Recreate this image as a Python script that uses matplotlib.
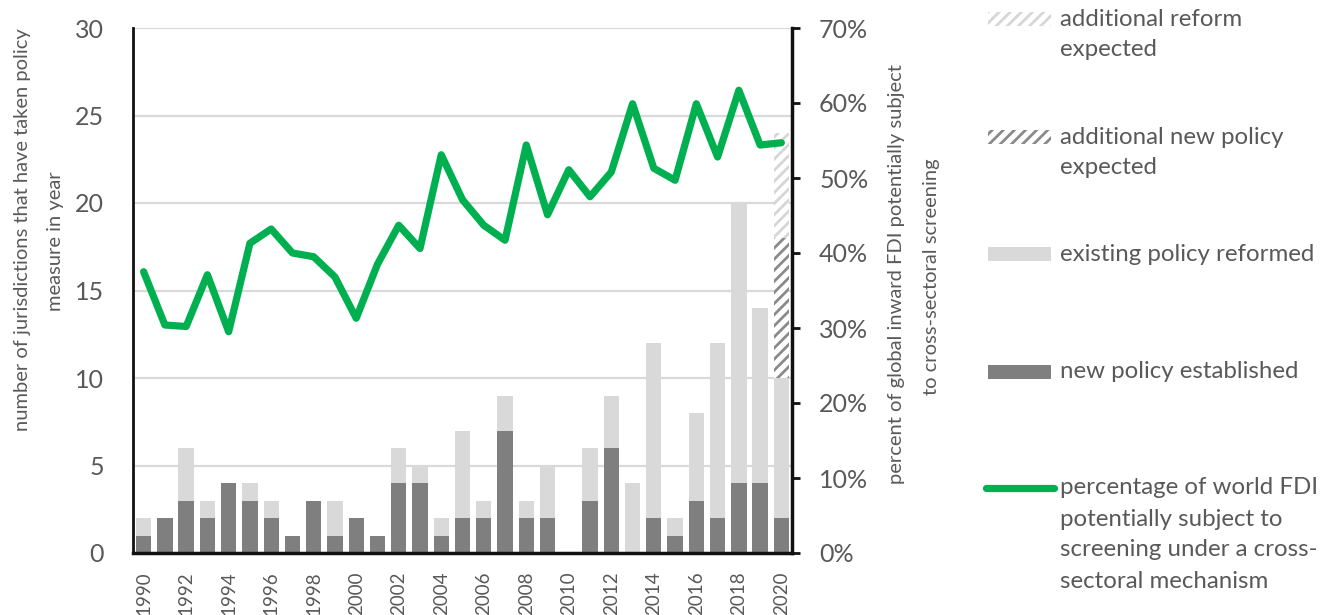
import matplotlib
matplotlib.use('Agg')
import matplotlib.pyplot as plt
from matplotlib.patches import Rectangle
from matplotlib.lines import Line2D
import numpy as np

# ---------------- data ----------------
years = list(range(1990, 2021))
new_policy = [1, 2, 3, 2, 4, 3, 2, 1, 3, 1, 2, 1, 4, 4, 1, 2, 2, 7, 2, 2,
              0, 3, 6, 0, 2, 1, 3, 2, 4, 4, 2]
reformed = [1, 0, 3, 1, 0, 1, 1, 0, 0, 2, 0, 0, 2, 1, 1, 5, 1, 2, 1, 3,
            0, 3, 3, 4, 10, 1, 5, 10, 16, 10, 8]
expected_new = [0] * 30 + [8]
expected_reform = [0] * 30 + [6]
fdi_share = [37.5, 30.4, 30.2, 37.1, 29.5, 41.3, 43.2, 40.0, 39.5, 36.8,
             31.3, 38.5, 43.7, 40.6, 53.1, 47.1, 43.7, 41.7, 54.4, 45.1,
             51.1, 47.5, 50.8, 59.9, 51.3, 49.7, 59.9, 52.8, 61.7, 54.4, 54.7]

left_ticks = [0, 5, 10, 15, 20, 25, 30]
right_ticks = [0, 10, 20, 30, 40, 50, 60, 70]
left_label = ["number of jurisdictions that have taken policy", "measure in year"]
right_label = ["percent of global inward FDI potentially subject",
               "to cross-sectoral screening"]
legend_labels = [
    ["additional reform", "expected"],
    ["additional new policy", "expected"],
    ["existing policy reformed"],
    ["new policy established"],
    ["percentage of world FDI", "potentially subject to",
     "screening under a cross-", "sectoral mechanism"],
]

# ---------------- style ----------------
DARK = '#7f7f7f'
LIGHT = '#d9d9d9'
GREEN = '#00b050'
TXT = '#595959'
plt.rcParams['font.family'] = ['Lato', 'DejaVu Sans']
plt.rcParams['hatch.linewidth'] = 2.0

W, H = 1336, 615
fig = plt.figure(figsize=(W / 100, H / 100), dpi=100)
L, R, T, B = 133, 792, 28, 553
ax = fig.add_axes([L / W, 1 - B / H, (R - L) / W, (B - T) / H])

x = np.arange(len(years))
bw = 0.72
new_a = np.array(new_policy)
ref_a = np.array(reformed)
exn_a = np.array(expected_new)
exr_a = np.array(expected_reform)

ax.bar(x, new_a, width=bw, color=DARK, lw=0, zorder=2)
ax.bar(x, ref_a, width=bw, bottom=new_a, color=LIGHT, lw=0, zorder=2)
ax.bar(x, exn_a, width=bw, bottom=new_a + ref_a, facecolor='white',
       edgecolor='#8a8a8a', hatch='///', lw=0, zorder=2)
ax.bar(x, exr_a, width=bw, bottom=new_a + ref_a + exn_a, facecolor='white',
       edgecolor='#d6d6d6', hatch='///', lw=0, zorder=2)

ax.set_xlim(-0.5, len(years) - 0.5)
ax.set_ylim(0, 30)
ax.set_yticks(left_ticks)
ax.set_yticklabels([str(v) for v in left_ticks])
ax.set_xticks(x[::2])
ax.set_xticklabels([str(y) for y in years[::2]], rotation=90)
ax.yaxis.grid(True, color='#d9d9d9', lw=1.6, zorder=0)
ax.set_axisbelow(True)
ax.tick_params(axis='y', length=0, labelsize=18, labelcolor=TXT, pad=21)
ax.tick_params(axis='x', length=0, labelsize=13.5, labelcolor=TXT, pad=13)
for s in ['top', 'right']:
    ax.spines[s].set_visible(False)
ax.spines['left'].set_linewidth(2)
ax.spines['left'].set_color('#111111')
ax.spines['bottom'].set_linewidth(2.5)
ax.spines['bottom'].set_color('#111111')

ax2 = ax.twinx()
ax2.plot(x, fdi_share, color=GREEN, lw=5.2, solid_joinstyle='round',
         solid_capstyle='round', zorder=3)
ax2.set_ylim(0, 70)
ax2.set_yticks(right_ticks)
ax2.set_yticklabels([f"{v}%" for v in right_ticks])
ax2.tick_params(axis='y', length=5.5, width=2, color='#111111', direction='out',
                labelsize=18, labelcolor=TXT, pad=14)
for s in ['top', 'left', 'bottom']:
    ax2.spines[s].set_visible(False)
ax2.spines['right'].set_linewidth(2.5)
ax2.spines['right'].set_color('#111111')

# axis titles (one text per line, rotated)
for (px, py), t in zip([(23, 230), (55, 241)], left_label):
    fig.text(px / W, 1 - py / H, t, rotation=90, ha='center', va='center',
             fontsize=14.5, color=TXT)
for (px, py), t in zip([(897, 274), (931, 277)], right_label):
    fig.text(px / W, 1 - py / H, t, rotation=90, ha='center', va='center',
             fontsize=14.5, color=TXT)

# legend (drawn manually in figure pixels)
def fx(px):
    return px / W

def fy(py):
    return 1 - py / H

sw_x0, sw_x1 = 988, 1051
sw_h = 14
text_x = 1060
line_gap = 31
entries = [
    (19, 'hatch', '#d6d6d6'),
    (137, 'hatch', '#8a8a8a'),
    (254, 'solid', LIGHT),
    (372, 'solid', DARK),
    (488, 'line', GREEN),
]
for (yc, kind, col), lines in zip(entries, legend_labels):
    if kind == 'hatch':
        fig.patches.append(Rectangle((fx(sw_x0), fy(yc + sw_h / 2)),
                                     fx(sw_x1) - fx(sw_x0), sw_h / H,
                                     transform=fig.transFigure, facecolor='white',
                                     edgecolor=col, hatch='///', lw=0))
    elif kind == 'solid':
        fig.patches.append(Rectangle((fx(sw_x0), fy(yc + sw_h / 2)),
                                     fx(sw_x1) - fx(sw_x0), sw_h / H,
                                     transform=fig.transFigure, facecolor=col, lw=0))
    else:
        fig.lines.append(Line2D([fx(986), fx(1054)], [fy(yc), fy(yc)],
                                transform=fig.transFigure, color=col, lw=5.2,
                                solid_capstyle='round'))
    for i, t in enumerate(lines):
        fig.text(fx(text_x), fy(yc + i * line_gap), t, ha='left', va='center',
                 fontsize=17.3, color=TXT)

fig.savefig('out.png', dpi=100)
